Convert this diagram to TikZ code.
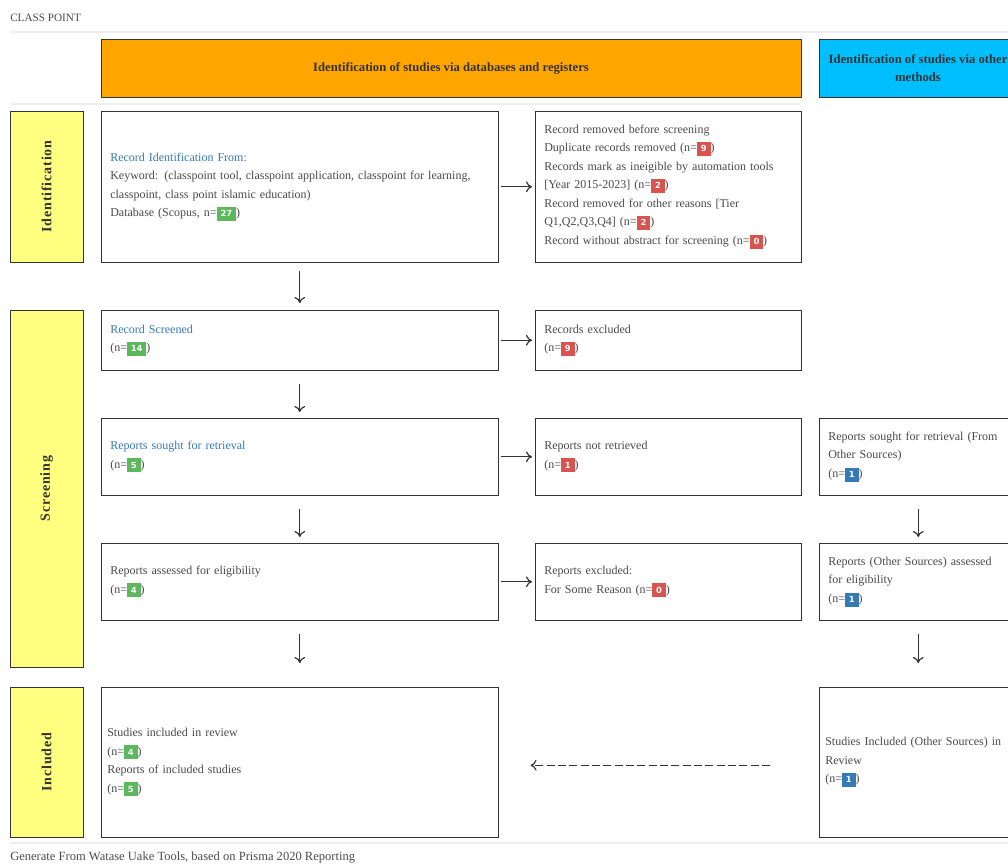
\documentclass[tikz,border=0pt]{standalone}
\usepackage{fontspec}
\setmainfont{Liberation Serif}
\setsansfont{DejaVu Sans}
\usepackage{tikz}
\usetikzlibrary{arrows.meta}
\definecolor{hdrorange}{HTML}{FFA500}
\definecolor{hdrblue}{HTML}{00BFFF}
\definecolor{phyellow}{HTML}{FFFF80}
\definecolor{ttl}{HTML}{337AB7}
\definecolor{txtc}{HTML}{4A4A4A}
\definecolor{linec}{HTML}{333333}
\definecolor{sepc}{HTML}{EEEEEE}
\definecolor{bgreen}{HTML}{5CB85C}
\definecolor{bred}{HTML}{D9534F}
\definecolor{bblue}{HTML}{337AB7}
\newcommand\boxfont{\fontsize{9}{13.9}\selectfont}
\newcommand\nb[2]{{\fboxsep=1.5pt\colorbox{#1}{\hspace{1.4pt}\sffamily\bfseries\fontsize{6.3}{6}\selectfont\color{white}\rule[-1.6pt]{0pt}{7.4pt}#2\hspace{1.4pt}}}}

\begin{document}
\begin{tikzpicture}[x=0.75pt,y=-0.75pt,
	pbox/.style={draw=linec, fill=white, anchor=north west, inner xsep=6.75pt, inner ysep=0pt, align=left, font=\boxfont, text=txtc},
	phase/.style={draw=linec, fill=phyellow, rotate=90, minimum height=54.75pt, font=\bfseries\fontsize{10.5}{12}\selectfont\addfontfeatures{LetterSpace=6}, text=linec},
	hdr/.style={draw=linec, minimum height=43.5pt, align=center, font=\bfseries\fontsize{9.5}{13.5}\selectfont, text=linec},
	arr/.style={draw=linec, line width=0.9pt, -{To[length=4.5pt,width=8pt]}},
	sep/.style={draw=sepc, line width=1.2pt}]
	\useasboundingbox (0,0) rectangle (1008,865);
	\clip (0,0) rectangle (1008,865);

	%title and separators
	\node[anchor=west, font=\fontsize{8.4}{9}\selectfont, text=txtc, inner sep=0pt] (title) at (10,18) {CLASS POINT};
	\draw[sep] (10,32)--(1008,32);
	\draw[sep] (10,104)--(801,104);
	\draw[sep] (10,843)--(1008,843);
	\node[anchor=west, font=\fontsize{9.4}{10}\selectfont, text=txtc, inner sep=0pt] (foot) at (10,857) {Generate From Watase Uake Tools, based on Prisma 2020 Reporting};

	%headers
	\node[hdr, fill=hdrorange, minimum width=525pt] (hdrDb) at (451,68) {Identification of studies via databases and registers};
	\node[hdr, fill=hdrblue, minimum width=148.5pt] (hdrOther) at (918,68) {Identification of studies via other\\methods};

	%phases
	\node[phase, minimum width=113.25pt] (phId) at (46.5,186.5) {Identification};
	\node[phase, minimum width=267.75pt] (phScr) at (46.5,488.5) {Screening};
	\node[phase, minimum width=112.5pt] (phInc) at (46.5,762) {Included};

	%identification row
	\node[pbox, text width=284.25pt, minimum height=113.25pt] (recId) at (101,111)
		{\textcolor{ttl}{Record Identification From:}\\
		Keyword: (classpoint tool, classpoint application, classpoint for learning,\\
		classpoint, class point islamic education)\\
		Database (Scopus, n=\nb{bgreen}{27})};
	\node[pbox, text width=186pt, minimum height=113.25pt] (recRem) at (535,111)
		{Record removed before screening\\
		Duplicate records removed (n=\nb{bred}{9})\\
		Records mark as ineigible by automation tools\\
		{[Year 2015-2023]} (n=\nb{bred}{2})\\
		Record removed for other reasons [Tier\\
		Q1,Q2,Q3,Q4] (n=\nb{bred}{2})\\
		Record without abstract for screening (n=\nb{bred}{0})};

	%screening rows
	\node[pbox, text width=284.25pt, minimum height=45pt] (recScr) at (101,310)
		{\textcolor{ttl}{Record Screened}\\(n=\nb{bgreen}{14})};
	\node[pbox, text width=186pt, minimum height=45pt] (recExcl) at (535,310)
		{Records excluded\\(n=\nb{bred}{9})};
	\node[pbox, text width=284.25pt, minimum height=57.75pt] (repSought) at (101,418)
		{\textcolor{ttl}{Reports sought for retrieval}\\(n=\nb{bgreen}{5})};
	\node[pbox, text width=186pt, minimum height=57.75pt] (repNotRet) at (535,418)
		{Reports not retrieved\\(n=\nb{bred}{1})};
	\node[pbox, text width=135pt, minimum height=57.75pt] (repOthSought) at (819,418)
		{Reports sought for retrieval (From\\Other Sources)\\(n=\nb{bblue}{1})};
	\node[pbox, text width=284.25pt, minimum height=57.75pt] (repElig) at (101,543)
		{Reports assessed for eligibility\\(n=\nb{bgreen}{4})};
	\node[pbox, text width=186pt, minimum height=57.75pt] (repExcl) at (535,543)
		{Reports excluded:\\For Some Reason (n=\nb{bred}{0})};
	\node[pbox, text width=135pt, minimum height=57.75pt] (repOthElig) at (819,543)
		{Reports (Other Sources) assessed\\for eligibility\\(n=\nb{bblue}{1})};

	%included row
	\node[pbox, inner xsep=4.5pt, text width=288.75pt, minimum height=112.5pt] (studIncl) at (101,687)
		{Studies included in review\\(n=\nb{bgreen}{4})\\Reports of included studies\\(n=\nb{bgreen}{5})};
	\node[pbox, inner xsep=4.5pt, text width=139.5pt, minimum height=112.5pt] (studOthIncl) at (819,687)
		{Studies Included (Other Sources) in\\Review\\(n=\nb{bblue}{1})};

	%horizontal arrows
	\draw[arr, shorten <=1.5pt, shorten >=2.25pt] (recId.east)--(recRem.west);
	\draw[arr, shorten <=1.5pt, shorten >=2.25pt] (recScr.east)--(recExcl.west);
	\draw[arr, shorten <=1.5pt, shorten >=2.25pt] (repSought.east)--(repNotRet.west);
	\draw[arr, shorten <=1.5pt, shorten >=2.25pt] (repElig.east)--(repExcl.west);

	%vertical arrows
	\draw[arr, shorten <=6pt, shorten >=5.25pt] (recId.south)--(recScr.north);
	\draw[arr, shorten <=9.75pt, shorten >=4.5pt] (recScr.south)--(repSought.north);
	\draw[arr, shorten <=9.75pt, shorten >=4.5pt] (repSought.south)--(repElig.north);
	\draw[arr, shorten <=9.75pt, shorten >=18pt] (repElig.south)--(studIncl.north);
	\draw[arr, shorten <=9.75pt, shorten >=4.5pt] (repOthSought.south)--(repOthElig.north);
	\draw[arr, shorten <=9.75pt, shorten >=18pt] (repOthElig.south)--(studOthIncl.north);

	%other sources into review
	\draw[arr, dash pattern=on 6pt off 2.5pt, shorten <=36.75pt, shorten >=24pt] ([yshift=-2.25pt]studOthIncl.west)--([yshift=-2.25pt]studIncl.east);
\end{tikzpicture}
\end{document}
